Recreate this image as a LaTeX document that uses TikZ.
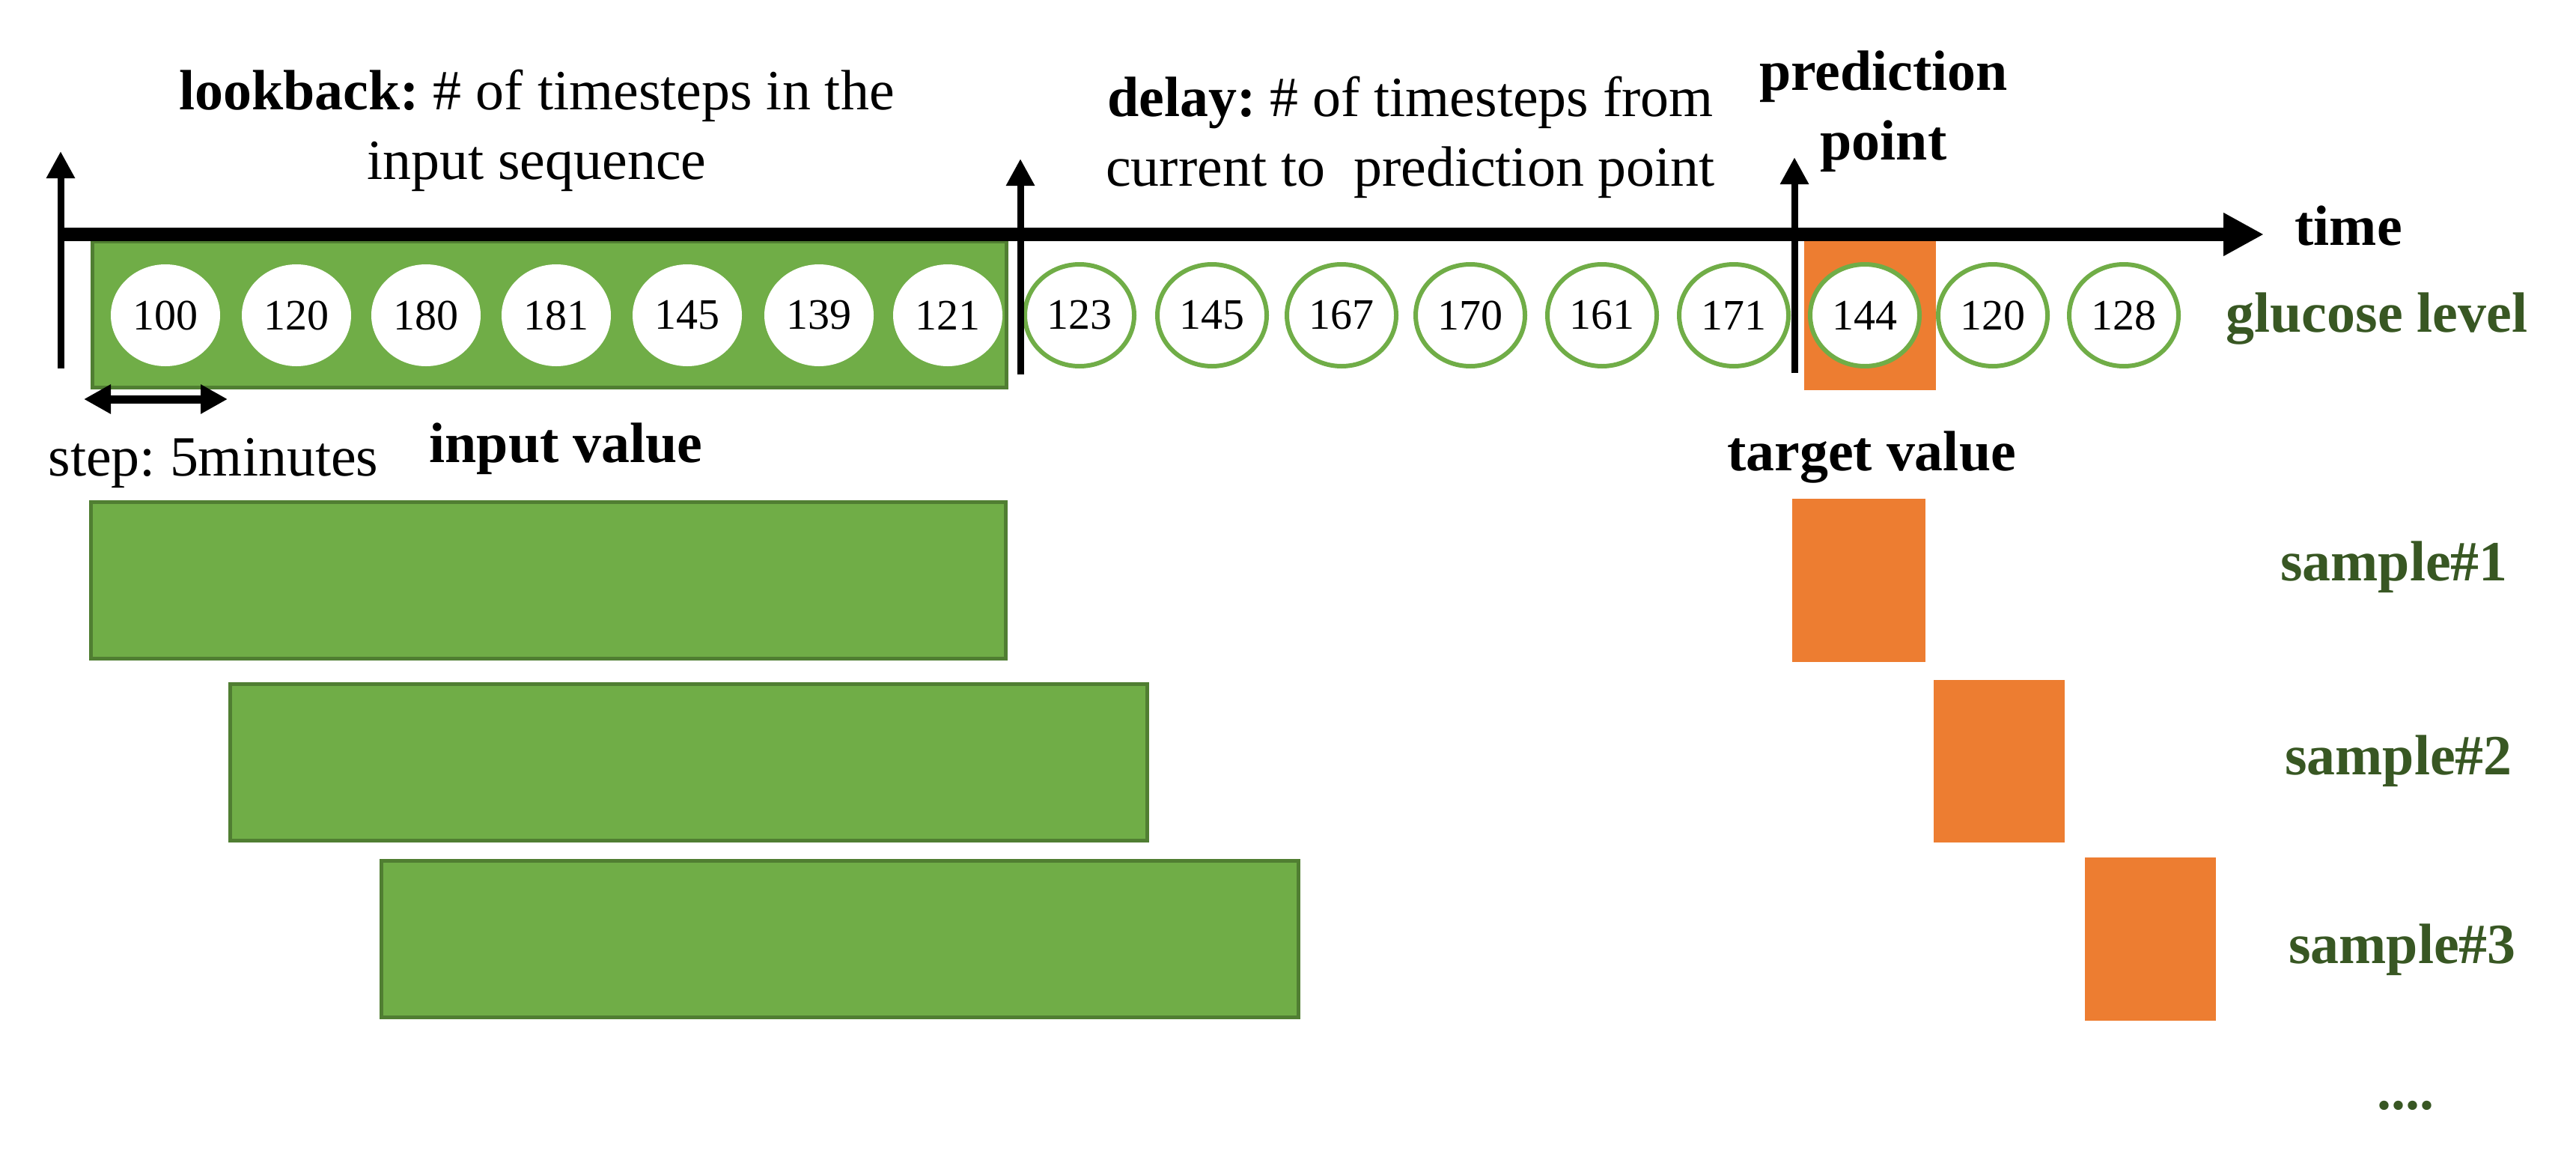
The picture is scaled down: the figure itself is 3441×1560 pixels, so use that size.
\documentclass[tikz,border=0pt]{standalone}
\usepackage{fontspec}
\setmainfont{Liberation Serif}
\usetikzlibrary{arrows.meta,shapes.geometric}
\definecolor{gfill}{HTML}{70AD47}
\definecolor{gline}{HTML}{507E32}
\definecolor{ofill}{HTML}{ED7D31}
\definecolor{dgreen}{HTML}{385723}
\frenchspacing
\begin{document}
\begin{tikzpicture}[x=0.1mm,y=-0.1mm,
  lbl/.style={font=\fontsize{21.6}{26.2}\selectfont, inner sep=0pt, align=center, anchor=base},
  blbl/.style={lbl, font=\fontsize{21.6}{26.2}\selectfont\bfseries},
  glbl/.style={blbl, text=dgreen},
  valin/.style={ellipse, fill=white, minimum width=14.6mm, minimum height=13.6mm, inner sep=0pt, font=\fontsize{16.5}{19}\selectfont},
  valout/.style={valin, draw=gfill, line width=0.6mm},
  inbox/.style={fill=gfill, draw=gline, line width=0.5mm},
  tbox/.style={fill=ofill},
  vline/.style={line width=0.9mm, -{Triangle[length=3.6mm,width=3.6mm]}},
  axisline/.style={line width=1.8mm, -{Triangle[length=5.4mm,width=5.4mm]}},
  steparrow/.style={line width=1.1mm, {Triangle[length=3.6mm,width=3.7mm]}-{Triangle[length=3.6mm,width=3.7mm]}}
]
\useasboundingbox (0,0) rectangle (3441,1560);
% top boxes
\draw[inbox] (123,322) rectangle (1344,517);
\fill[tbox] (2410,322) rectangle (2586,521);
% input values
\foreach \x/\v [count=\i] in {221/100,396/120,569/180,743/181,918/145,1094/139,1266/121}
  \node[valin] (in\i) at (\x,421) {\v};
\foreach \x/\v [count=\i] in {1442/123,1619/145,1792/167,1964/170,2140/161,2316/171,2491/144,2662/120,2837/128}
  \node[valout] (out\i) at (\x,421) {\v};
% axis and markers
\coordinate (ax0) at (81,313);
\coordinate (ax1) at (3024,313);
\coordinate (m1b) at (81,492);
\coordinate (m1t) at (81,202);
\coordinate (m2b) at (1363,500);
\coordinate (m2t) at (1363,212);
\coordinate (m3b) at (2397,498);
\coordinate (m3t) at (2397,210);
\draw[axisline] (ax0) -- (ax1);
\draw[vline] (m1b) -- (m1t);
\draw[vline] (m2b) -- (m2t);
\draw[vline] (m3b) -- (m3t);
% step arrow
\coordinate (s0) at (112,533);
\coordinate (s1) at (304,533);
\draw[steparrow] (s0) -- (s1);
% labels (anchor base = baseline of last line)
\node[lbl] (lookback) at (717,239) {\textbf{lookback:} \# of timesteps in the\\input sequence};
\node[lbl] (delay) at (1884,248) {\textbf{delay:} \# of timesteps from\\current to\ \ prediction point};
\node[blbl] (pred) at (2516,213) {prediction\\point};
\node[blbl] (time) at (3137,327) {time};
\node[glbl] (gl) at (3175,443) {glucose level};
\node[lbl] (step) at (285,635) {step: 5minutes};
\node[blbl] (inval) at (756,617) {input value};
\node[blbl] (tval) at (2500,628) {target value};
% samples
\draw[inbox] (121,670) rectangle (1343,879);
\draw[inbox] (307,913) rectangle (1532,1122);
\draw[inbox] (509,1149) rectangle (1734,1358);
\fill[tbox] (2394,666) rectangle (2572,884);
\fill[tbox] (2583,908) rectangle (2758,1125);
\fill[tbox] (2785,1145) rectangle (2960,1363);
\node[glbl] (s1l) at (3198,775) {sample\#1};
\node[glbl] (s2l) at (3204,1034) {sample\#2};
\node[glbl] (s3l) at (3209,1286) {sample\#3};
\node[glbl] (dots) at (3213,1481) {....};
\end{tikzpicture}
\end{document}
